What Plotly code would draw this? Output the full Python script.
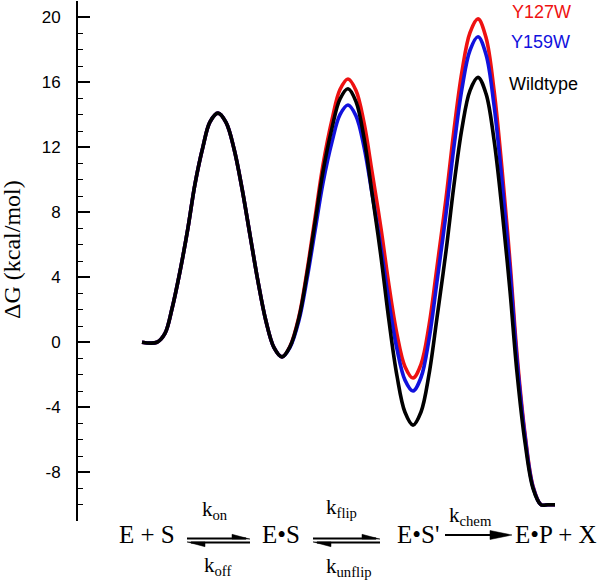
import plotly.graph_objects as go

# ---- data (reaction coordinate, arbitrary units; free energy in kcal/mol) ----
reaction_coord = [0, 15, 23, 30, 38, 46, 53, 61, 68, 76,
                  84, 92, 100, 108, 116, 124, 132, 140,
                  148, 157, 165, 173, 181, 190, 198, 206,
                  214, 222, 230, 239, 247, 255, 263, 271,
                  279, 287, 295, 304, 312, 320, 328, 336,
                  344, 352, 360, 368, 375, 383, 391, 399, 406, 413]
dG_shared = [0, 0, 0.54, 2.06, 4.36, 7.05, 9.74, 12.04, 13.56, 14.1,
             13.53, 11.91, 9.47, 6.6, 3.74, 1.29, -0.33, -0.9]
dG_wildtype = dG_shared + [-0.27, 1.51, 4.2, 7.35, 10.5, 13.19, 14.97, 15.6,
                           14.81, 12.58, 9.2, 5.25, 1.3, -2.08, -4.31, -5.1,
                           -4.29, -1.98, 1.51, 5.6, 9.69, 13.18, 15.49, 16.3,
                           15.3, 12.46, 8.17, 3.15, -1.87, -6.16, -8.99, -10, -10, -10]
dG_Y127W = dG_shared + [-0.25, 1.6, 4.38, 7.65, 10.92, 13.7, 15.55, 16.2,
                        15.5, 13.51, 10.51, 7.0, 3.49, 0.49, -1.5, -2.2,
                        -1.36, 1.03, 4.63, 8.85, 13.07, 16.67, 19.06, 19.9,
                        18.76, 15.53, 10.66, 4.95, -0.76, -5.63, -8.86, -10, -10, -10]
dG_Y159W = dG_shared + [-0.31, 1.36, 3.89, 6.85, 9.81, 12.34, 14.01, 14.6,
                        13.93, 12.03, 9.16, 5.8, 2.44, -0.43, -2.33, -3.0,
                        -2.17, 0.18, 3.74, 7.9, 12.06, 15.62, 17.97, 18.8,
                        17.71, 14.6, 9.9, 4.4, -1.1, -5.8, -8.91, -10, -10, -10]
series_names = ["Y127W", "Y159W", "Wildtype"]
series_colors = ["#ee1111", "#1111dd", "#000000"]
y_tick_vals = [-8, -4, 0, 4, 8, 12, 16, 20]
y_tick_text = ["-8", "-4", "0", "4", "8", "12", "16", "20"]

# ---- layout geometry (pixels) ----
W, H = 600, 580
ML, MR, MT, MB = 78, 0, 1, 59
PW, PH = W - ML - MR, H - MT - MB


def px(x):
    return (x - ML) / PW


def py(y):
    return 1 - (y - MT) / PH


fig = go.Figure()
for name, ys, col in zip(series_names, [dG_Y127W, dG_Y159W, dG_wildtype], series_colors):
    fig.add_trace(go.Scatter(x=reaction_coord, y=ys, mode="lines", name=name,
                             line=dict(color=col, width=3.6, shape="spline", smoothing=1),
                             hoverinfo="skip", showlegend=False))

serif = "Liberation Serif, Times New Roman, serif"
sans = "Liberation Sans, Arial, sans-serif"

ann = []
# y-axis title
ann.append(dict(x=px(12), y=py(250), xref="paper", yref="paper", text="ΔG (kcal/mol)",
                textangle=-90, showarrow=False, font=dict(family=serif, size=24, color="black"),
                xanchor="center", yanchor="middle"))
# series labels
for name, col, (lx, ly) in zip(series_names, series_colors, [(510, 12), (509, 42), (507, 84)]):
    ann.append(dict(x=px(lx), y=py(ly), xref="paper", yref="paper", text=name, showarrow=False,
                    font=dict(family=sans, size=18, color=col), xanchor="left", yanchor="middle"))
# reaction scheme
species = [("E + S", 147), ("E•S", 281), ("E•S'", 418), ("E•P + X", 556)]
for t, cx in species:
    ann.append(dict(x=px(cx), y=py(534), xref="paper", yref="paper", text=t, showarrow=False,
                    font=dict(family=serif, size=25, color="black"), xanchor="center", yanchor="middle"))
rates = [("k<sub>on</sub>", 215, 510), ("k<sub>off</sub>", 217, 566),
         ("k<sub>flip</sub>", 341, 508), ("k<sub>unflip</sub>", 349, 567),
         ("k<sub>chem</sub>", 470, 516)]
for t, cx, cy in rates:
    ann.append(dict(x=px(cx), y=py(cy), xref="paper", yref="paper", text=t, showarrow=False,
                    font=dict(family=serif, size=21, color="black"), xanchor="center", yanchor="middle"))

shapes = []


def line(x0, y0, x1, y1, w=1.8):
    shapes.append(dict(type="line", xref="paper", yref="paper", x0=px(x0), y0=py(y0),
                       x1=px(x1), y1=py(y1), line=dict(color="black", width=w)))


def tri(pts):
    d = "M " + " L ".join(f"{px(a):.5f},{py(b):.5f}" for a, b in pts) + " Z"
    shapes.append(dict(type="path", xref="paper", yref="paper", path=d,
                       fillcolor="black", line=dict(color="black", width=0.5)))


def equilibrium(x0, x1, ytop, ybot):
    line(x0, ytop, x1 - 4, ytop)
    tri([(x1 - 18, ytop - 4.2), (x1, ytop + 0.6), (x1 - 18, ytop + 0.6)])
    line(x0 + 4, ybot, x1, ybot)
    tri([(x0 + 18, ybot + 4.2), (x0, ybot - 0.6), (x0 + 18, ybot - 0.6)])


equilibrium(187, 250, 538.5, 542.5)
equilibrium(313, 380, 538.5, 542.5)
line(445, 535, 495, 535)
tri([(490, 530.5), (512, 535), (490, 539.5)])

fig.update_layout(
    width=W, height=H, margin=dict(l=ML, r=MR, t=MT, b=MB, autoexpand=False),
    paper_bgcolor="white", plot_bgcolor="white",
    xaxis=dict(visible=False, range=[-64, 458]),
    yaxis=dict(range=[-11, 21], tickvals=y_tick_vals, ticktext=y_tick_text, ticks="inside",
               ticklen=12, tickwidth=1.5, automargin=False,
               tickcolor="black", showline=True, linecolor="black", linewidth=2, mirror=False,
               showgrid=False, zeroline=False, ticklabelstandoff=12,
               tickfont=dict(family=sans, size=17, color="black"),
               minor=dict(dtick=1, tick0=0, ticks="inside", ticklen=5, tickwidth=1.2,
                          tickcolor="black", showgrid=False)),
    annotations=ann, shapes=shapes, showlegend=False,
)
fig.write_html("out.html", config={"displayModeBar": False},
               post_script="document.body.style.margin='0px';document.body.style.overflow='hidden';")
